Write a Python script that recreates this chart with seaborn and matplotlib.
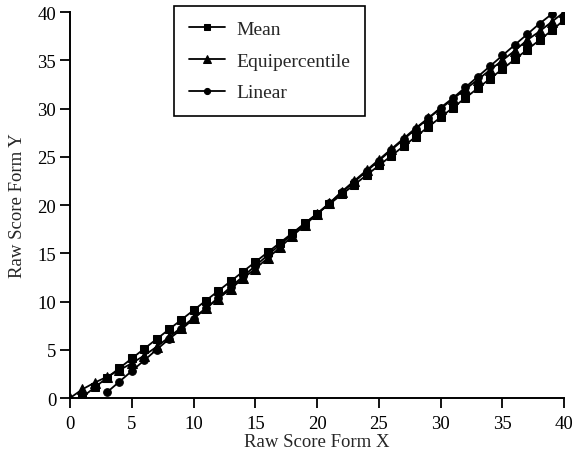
import matplotlib
matplotlib.use("Agg")
import matplotlib.pyplot as plt
import seaborn as sns
import pandas as pd

sns.set_style("ticks")
plt.rcParams['font.family'] = ['Liberation Serif', 'DejaVu Serif']

mean_x = list(range(1, 41))
mean_y = [0.1, 1.1, 2.1, 3.1, 4.1, 5.1, 6.1, 7.1, 8.1, 9.1, 10.1, 11.1, 12.1, 13.1, 14.1,
          15.1, 16.1, 17.1, 18.1, 19.1, 20.1, 21.1, 22.1, 23.1, 24.1, 25.1, 26.1, 27.1,
          28.1, 29.1, 30.1, 31.1, 32.1, 33.1, 34.1, 35.1, 36.1, 37.1, 38.1, 39.2]
equi_x = list(range(0, 41))
equi_y = [0.0, 0.9, 1.6, 2.2, 2.9, 3.6, 4.4, 5.3, 6.3, 7.3, 8.3, 9.3, 10.3, 11.3, 12.4,
          13.4, 14.5, 15.6, 16.8, 17.9, 19.1, 20.2, 21.4, 22.5, 23.6, 24.7, 25.8, 26.9,
          28.0, 29.0, 30.0, 31.0, 32.0, 33.0, 34.0, 35.0, 36.0, 37.1, 38.0, 39.0, 40.0]
lin_x = list(range(3, 40))
lin_y = [0.6, 1.7, 2.8, 3.9, 5.0, 6.1, 7.1, 8.2, 9.3, 10.4, 11.5, 12.6, 13.7, 14.8, 15.9,
         17.0, 18.1, 19.1, 20.2, 21.3, 22.4, 23.5, 24.6, 25.7, 26.8, 27.9, 29.0, 30.1,
         31.1, 32.2, 33.3, 34.4, 35.5, 36.6, 37.7, 38.8, 39.8]

fig = plt.figure(figsize=(5.74, 4.6), dpi=100)
ax = fig.add_axes([0.122, 0.1326, 0.861, 0.839])

series = [("Mean", mean_x, mean_y, "s", 6),
          ("Equipercentile", equi_x, equi_y, "^", 6.5),
          ("Linear", lin_x, lin_y, "o", 5.5)]
for name, xs, ys, mk, ms in series:
    df = pd.DataFrame({"x": xs, "y": ys})
    sns.lineplot(data=df, x="x", y="y", ax=ax, color="black", linewidth=1.3,
                 marker=mk, markersize=ms, markeredgecolor="black",
                 markerfacecolor="black", label=name)

ax.set_xlim(0, 40)
ax.set_ylim(0, 40)
ax.set_xticks(range(0, 41, 5))
ax.set_yticks(range(0, 41, 5))
ax.tick_params(axis="both", direction="out", length=7, width=1.3, labelsize=13.5,
               colors="black")
ax.tick_params(axis="x", pad=5)
ax.tick_params(axis="y", pad=3)
for s in ["left", "bottom"]:
    ax.spines[s].set_linewidth(1.4)
    ax.spines[s].set_color("black")
sns.despine(ax=ax)
ax.set_xlabel("Raw Score Form X", fontsize=13.5, labelpad=1)
ax.set_ylabel("Raw Score Form Y", fontsize=13.5, labelpad=8)

leg = ax.legend(loc="upper left", bbox_to_anchor=(0.2105, 1.0155), frameon=True,
                fancybox=False, edgecolor="black", fontsize=14, handlelength=1.85,
                labelspacing=0.72, borderpad=0.75, handletextpad=0.62,
                borderaxespad=0, markerscale=0.8)
leg.get_frame().set_linewidth(1.2)
leg.get_frame().set_alpha(1)

fig.savefig("out.png", dpi=100)
